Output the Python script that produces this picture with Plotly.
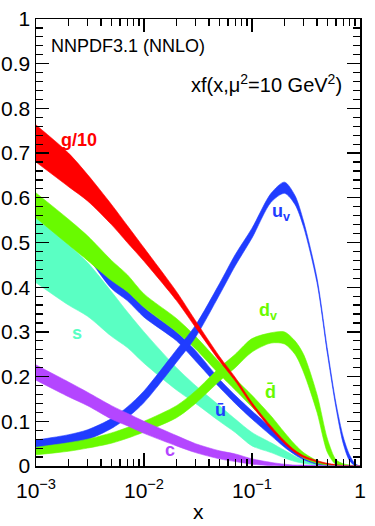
import numpy as np
import plotly.graph_objects as go

# ---------------- data ----------------
x = [0.001, 0.002, 0.003, 0.005, 0.007, 0.01, 0.02, 0.03, 0.05, 0.07, 0.1,
     0.15, 0.2, 0.25, 0.3, 0.4, 0.5, 0.6, 0.7, 0.8, 0.9, 1.0]

g10_lo = [0.68, 0.625, 0.593, 0.54, 0.50, 0.458, 0.37, 0.31, 0.235, 0.19, 0.135,
          0.082, 0.05, 0.03, 0.019, 0.009, 0.004, 0.0015, 0.0005, 0.0, 0.0, 0.0]
g10_hi = [0.763, 0.70, 0.652, 0.585, 0.538, 0.488, 0.39, 0.325, 0.245, 0.198, 0.142,
          0.089, 0.056, 0.035, 0.023, 0.012, 0.006, 0.003, 0.0012, 0.0004, 0.0, 0.0]

uv_lo = [0.04, 0.05, 0.059, 0.084, 0.108, 0.142, 0.232, 0.288, 0.383, 0.448, 0.51,
         0.59, 0.61, 0.585, 0.535, 0.41, 0.25, 0.13, 0.05, 0.012, 0.001, 0.0]
uv_hi = [0.058, 0.07, 0.081, 0.106, 0.132, 0.168, 0.26, 0.315, 0.408, 0.473, 0.532,
         0.61, 0.635, 0.605, 0.548, 0.42, 0.26, 0.14, 0.065, 0.025, 0.005, 0.0]

dv_lo = [0.025, 0.033, 0.04, 0.051, 0.062, 0.076, 0.108, 0.14, 0.19, 0.22, 0.255,
         0.275, 0.273, 0.25, 0.21, 0.12, 0.03, 0.003, 0.0, 0.0, 0.0, 0.0]
dv_hi = [0.042, 0.052, 0.06, 0.074, 0.086, 0.10, 0.135, 0.168, 0.22, 0.25, 0.285,
         0.298, 0.30, 0.28, 0.25, 0.16, 0.06, 0.014, 0.005, 0.002, 0.001, 0.0]

dbar_lo = [0.555, 0.495, 0.46, 0.415, 0.39, 0.355, 0.30, 0.262, 0.205, 0.17, 0.132,
           0.088, 0.055, 0.032, 0.018, 0.006, 0.002, 0.0005, 0.0, 0.0, 0.0, 0.0]
dbar_hi = [0.611, 0.552, 0.515, 0.46, 0.428, 0.385, 0.33, 0.29, 0.232, 0.195, 0.158,
           0.112, 0.075, 0.048, 0.03, 0.012, 0.005, 0.002, 0.001, 0.0005, 0.0, 0.0]

ubar_lo = [0.562, 0.502, 0.466, 0.397, 0.37, 0.333, 0.28, 0.235, 0.176, 0.14, 0.105,
           0.068, 0.042, 0.025, 0.014, 0.004, 0.001, 0.0, 0.0, 0.0, 0.0, 0.0]
ubar_hi = [0.60, 0.54, 0.505, 0.43, 0.40, 0.355, 0.30, 0.258, 0.194, 0.158, 0.123,
           0.085, 0.055, 0.035, 0.02, 0.007, 0.003, 0.001, 0.0, 0.0, 0.0, 0.0]

s_lo = [0.41, 0.36, 0.335, 0.29, 0.265, 0.23, 0.17, 0.14, 0.10, 0.075, 0.045,
        0.03, 0.018, 0.01, 0.006, 0.002, 0.0, 0.0, 0.0, 0.0, 0.0, 0.0]
s_hi = [0.555, 0.495, 0.455, 0.39, 0.345, 0.30, 0.22, 0.18, 0.135, 0.105, 0.075,
        0.052, 0.035, 0.022, 0.013, 0.005, 0.002, 0.0, 0.0, 0.0, 0.0, 0.0]

c_lo = [0.192, 0.155, 0.135, 0.105, 0.09, 0.073, 0.045, 0.03, 0.016, 0.01, 0.004,
        0.001, 0.0, 0.0, 0.0, 0.0, 0.0, 0.0, 0.0, 0.0, 0.0, 0.0]
c_hi = [0.226, 0.188, 0.165, 0.135, 0.118, 0.10, 0.068, 0.05, 0.034, 0.027, 0.016,
        0.008, 0.004, 0.002, 0.002, 0.001, 0.0, 0.0, 0.0, 0.0, 0.0, 0.0]

# label texts and positions (data coordinates)
labels = ["g/10", "u<sub>v</sub>", "d<sub>v</sub>", "d\u0304", "u\u0304", "s", "c"]
label_x = [0.0025, 0.186, 0.141, 0.147, 0.0506, 0.0024, 0.0174]
label_y = [0.729, 0.568, 0.345, 0.166, 0.125, 0.298, 0.036]

x_tickvals = [0.001, 0.01, 0.1, 1]
x_ticktext = ["10<sup>\u22123</sup>", "10<sup>\u22122</sup>", "10<sup>\u22121</sup>", "1"]

title_text = "NNPDF3.1 (NNLO)"
scale_text = "xf(x,\u03bc<sup>2</sup>=10 GeV<sup>2</sup>)"
x_title = "x"

# ---------------- style ----------------
RED = "rgb(255,0,0)"
BLUE = "rgb(32,60,255)"
GREEN = "rgb(105,250,0)"
CYAN = "rgb(90,255,195)"
PURPLE = "rgb(180,70,255)"

FONT = "Liberation Sans, Arial, Helvetica, sans-serif"
NARROW = "Liberation Sans Narrow, Arial Narrow, Liberation Sans, sans-serif"

fig = go.Figure()


def band(lo, hi, color):
    ln = dict(color=color, width=0.6, shape="spline", smoothing=0.8)
    fig.add_trace(go.Scatter(x=x, y=lo, mode="lines", line=ln, showlegend=False, hoverinfo="skip"))
    fig.add_trace(go.Scatter(x=x, y=hi, mode="lines", line=ln, fill="tonexty", fillcolor=color,
                             showlegend=False, hoverinfo="skip"))


band(s_lo, s_hi, CYAN)
band(ubar_lo, ubar_hi, BLUE)
band(dbar_lo, dbar_hi, GREEN)
band(uv_lo, uv_hi, BLUE)
band(dv_lo, dv_hi, GREEN)
band(g10_lo, g10_hi, RED)
band(c_lo, c_hi, PURPLE)

annotations = []
label_colors = [RED, BLUE, GREEN, GREEN, BLUE, CYAN, PURPLE]
for t, lx, ly, col in zip(labels, label_x, label_y, label_colors):
    annotations.append(dict(x=float(np.log10(lx)), y=ly, xref="x", yref="y", text="<b>" + t + "</b>",
                            showarrow=False, font=dict(family=FONT, size=18, color=col)))

annotations.append(dict(x=(49 - 36) / 324, y=(466 - 46) / 447, xref="paper", yref="paper",
                        xanchor="left", yanchor="middle", text=title_text, showarrow=False,
                        font=dict(family=NARROW, size=18, color="black")))
annotations.append(dict(x=(344 - 36) / 324, y=(466 - 83) / 447, xref="paper", yref="paper",
                        xanchor="right", yanchor="middle", text=scale_text, showarrow=False,
                        font=dict(family=FONT, size=20, color="black")))
annotations.append(dict(x=0.5, y=(466 - 511) / 447, xref="paper", yref="paper",
                        xanchor="center", yanchor="middle", text=x_title, showarrow=False,
                        font=dict(family=FONT, size=21, color="black")))

fig.update_layout(
    width=375, height=526,
    margin=dict(l=36, r=15, t=19, b=60, autoexpand=False),
    paper_bgcolor="white", plot_bgcolor="white",
    font=dict(family=FONT, color="black"),
    annotations=annotations,
)

fig.update_xaxes(
    type="log", range=[-3, 0], automargin=False,
    tickmode="array", tickvals=x_tickvals, ticktext=x_ticktext,
    ticks="inside", ticklen=13, tickwidth=1.3, tickcolor="black",
    showline=True, linecolor="black", linewidth=1.5, mirror="ticks",
    showgrid=False, zeroline=False, ticklabelstandoff=5,
    tickfont=dict(family=FONT, size=21),
    minor=dict(tickmode="array",
               tickvals=[m * 10 ** e for e in (-3, -2, -1) for m in range(2, 10)],
               ticks="inside", ticklen=7, tickwidth=1.2, tickcolor="black", showgrid=False),
)
fig.update_yaxes(
    range=[0, 1], tickmode="linear", tick0=0, dtick=0.1, automargin=False,
    ticks="inside", ticklen=13, tickwidth=1.3, tickcolor="black",
    showline=True, linecolor="black", linewidth=1.5, mirror="ticks",
    showgrid=False, zeroline=False,
    tickfont=dict(family=FONT, size=21),
    minor=dict(dtick=0.02, ticks="inside", ticklen=7, tickwidth=1.2, tickcolor="black", showgrid=False),
)

fig.write_html("out.html", config={"displayModeBar": False, "staticPlot": True},
               post_script="document.body.style.margin='0px';document.body.style.overflow='hidden';")
